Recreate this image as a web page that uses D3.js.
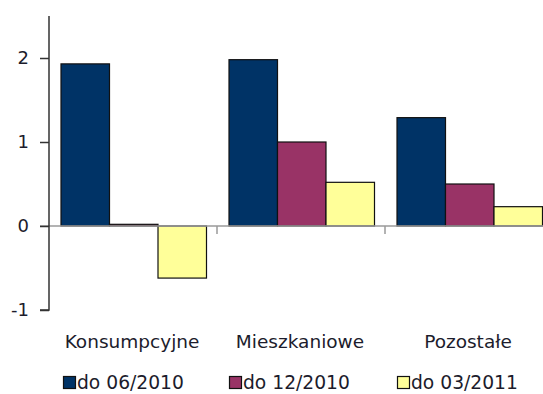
<!DOCTYPE html>
<html>
<head>
<meta charset="utf-8">
<script src="https://cdn.jsdelivr.net/npm/d3@7"></script>
<style>
html,body{margin:0;padding:0;background:#fff;}
svg{display:block;}
text{font-family:"DejaVu Sans",Verdana,sans-serif;fill:#1c1c2c;}
</style>
</head>
<body>
<svg id="chart" width="543" height="394"></svg>
<script>
const categories = ["Konsumpcyjne", "Mieszkaniowe", "Pozostałe"];
const seriesNames = ["do 06/2010", "do 12/2010", "do 03/2011"];
const series1 = [1.93, 1.98, 1.29];
const series2 = [0.02, 1.00, 0.50];
const series3 = [-0.62, 0.52, 0.23];
const yTicks = [-1, 0, 1, 2];
const colors = ["#003366", "#993366", "#FFFF99"];

const seriesValues = [series1, series2, series3];
const svg = d3.select("#chart");

const y = d3.scaleLinear().domain([-1, 2.5]).range([310, 16]);
const x = d3.scaleBand().domain(categories).range([49, 553]).padding(0);
const xs = d3.scaleBand().domain(seriesNames).range([12, 157.5]).padding(0);

// bars
categories.forEach((c, ci) => {
  seriesNames.forEach((s, si) => {
    const v = seriesValues[si][ci];
    svg.append("rect")
      .attr("x", x(c) + xs(s))
      .attr("y", y(Math.max(0, v)))
      .attr("width", xs.bandwidth())
      .attr("height", Math.abs(y(v) - y(0)))
      .attr("fill", colors[si])
      .attr("stroke", "#111")
      .attr("stroke-width", 1.2);
  });
});

// zero line
svg.append("line")
  .attr("x1", 40).attr("x2", 543)
  .attr("y1", y(0)).attr("y2", y(0))
  .attr("stroke", "#9a9a9a").attr("stroke-width", 1.5);

// category ticks
categories.slice(1).forEach(c => {
  svg.append("line")
    .attr("x1", x(c)).attr("x2", x(c))
    .attr("y1", y(0)).attr("y2", y(0) + 8)
    .attr("stroke", "#9a9a9a").attr("stroke-width", 1.5);
});

// y axis
const yAxis = d3.axisLeft(y).tickValues(yTicks).tickSize(9).tickPadding(11).tickFormat(d => String(d));
const ga = svg.append("g").attr("transform", "translate(49,0)").call(yAxis);
ga.select(".domain").attr("stroke", "#333").attr("stroke-width", 1.5).attr("d", `M-9,${y(-1)}H0V${y(2.5)}`);
ga.selectAll(".tick line").attr("stroke", "#333").attr("stroke-width", 1.5);
ga.selectAll(".tick text").attr("font-size", 18).attr("font-family", "DejaVu Sans").attr("fill", "#1c1c2c");

// category labels
svg.selectAll("text.cat").data(categories).enter().append("text")
  .attr("class", "cat")
  .attr("x", d => x(d) + x.bandwidth() / 2 - 1)
  .attr("y", 348)
  .attr("text-anchor", "middle")
  .attr("font-size", 18.5)
  .text(d => d);

// legend
const legendX = [63, 229, 397];
seriesNames.forEach((s, i) => {
  const g = svg.append("g").attr("transform", `translate(${legendX[i]},376)`);
  g.append("rect").attr("x", 0.5).attr("y", 0.5).attr("width", 12).attr("height", 12)
    .attr("fill", colors[i]).attr("stroke", "#111").attr("stroke-width", 1.2);
  g.append("text").attr("x", 14).attr("y", 12.5).attr("font-size", 18.7).text(s);
});
</script>
</body>
</html>
